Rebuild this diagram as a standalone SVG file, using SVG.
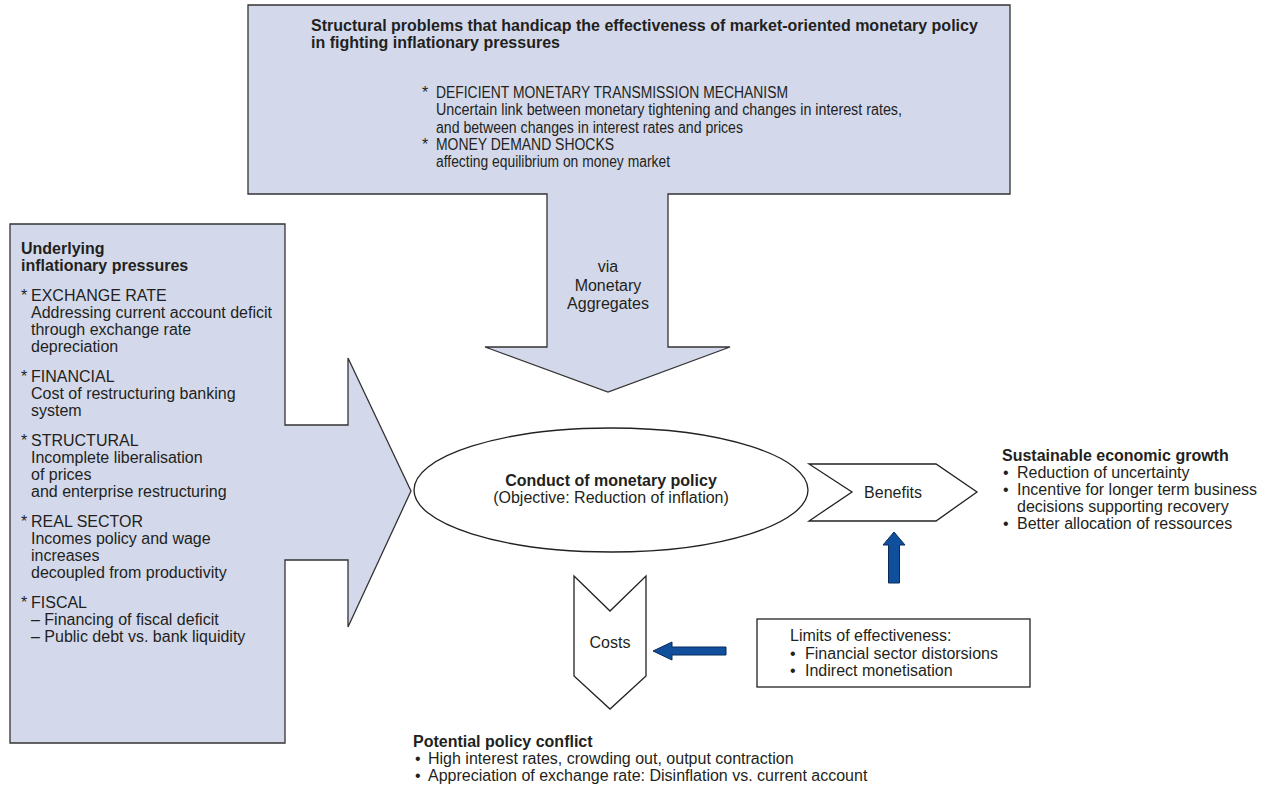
<svg xmlns="http://www.w3.org/2000/svg" width="1265" height="791" viewBox="0 0 1265 791">
<style>
text{font-family:"Liberation Sans",Arial,sans-serif;font-size:16px;fill:#231f20}
.b{font-weight:bold}
.m{text-anchor:middle}
.panel{fill:#d3d9eb;stroke:#333;stroke-width:1.3;stroke-linejoin:miter}
.wshape{fill:#fff;stroke:#222;stroke-width:1.3}
.blue{fill:#0f4f9c;stroke:#0a2a5c;stroke-width:1}
</style>
<rect width="1265" height="791" fill="#fff"/>

<g id="structural-problems">
<polygon class="panel" points="248,5 1010,5 1010,194 668,194 668,347 730,347 608,392 485,347 547,347 547,194 248,194"/>
<text class="b" x="311" y="30.5">Structural problems that handicap the effectiveness of market-oriented monetary policy</text>
<text class="b" x="311" y="48">in fighting inflationary pressures</text>
<text x="422" y="97.5">*</text>
<text x="436" y="97.5" textLength="352" lengthAdjust="spacingAndGlyphs">DEFICIENT MONETARY TRANSMISSION MECHANISM</text>
<text x="436" y="115" textLength="466" lengthAdjust="spacingAndGlyphs">Uncertain link between monetary tightening and changes in interest rates,</text>
<text x="436" y="132.5" textLength="307" lengthAdjust="spacingAndGlyphs">and between changes in interest rates and prices</text>
<text x="422" y="149.5">*</text>
<text x="436" y="149.5" textLength="178" lengthAdjust="spacingAndGlyphs">MONEY DEMAND SHOCKS</text>
<text x="436" y="166.5" textLength="234" lengthAdjust="spacingAndGlyphs">affecting equilibrium on money market</text>
<text class="m" x="608" y="272">via</text>
<text class="m" x="608" y="290.5">Monetary</text>
<text class="m" x="608" y="309">Aggregates</text>
</g>

<g id="inflationary-pressures">
<polygon class="panel" points="10,224 285,224 285,425 348,425 348,358 411,491 348,627 348,560 285,560 285,743 10,743"/>
<text class="b" x="21" y="253.5">Underlying</text>
<text class="b" x="21" y="270.5">inflationary pressures</text>
<text x="21" y="300.5">*</text><text x="31" y="300.5">EXCHANGE RATE</text>
<text x="31" y="317.5">Addressing current account deficit</text>
<text x="31" y="334.5">through exchange rate</text>
<text x="31" y="351.5">depreciation</text>
<text x="21" y="381.5">*</text><text x="31" y="381.5">FINANCIAL</text>
<text x="31" y="398.5">Cost of restructuring banking</text>
<text x="31" y="415.5">system</text>
<text x="21" y="445.5">*</text><text x="31" y="445.5">STRUCTURAL</text>
<text x="31" y="462.5">Incomplete liberalisation</text>
<text x="31" y="479.5">of prices</text>
<text x="31" y="496.5">and enterprise restructuring</text>
<text x="21" y="526.5">*</text><text x="31" y="526.5">REAL SECTOR</text>
<text x="31" y="543.5">Incomes policy and wage</text>
<text x="31" y="560.5">increases</text>
<text x="31" y="577.5">decoupled from productivity</text>
<text x="21" y="607.5">*</text><text x="31" y="607.5">FISCAL</text>
<text x="31" y="624.5">– Financing of fiscal deficit</text>
<text x="31" y="641.5">– Public debt vs. bank liquidity</text>
</g>

<g id="monetary-policy">
<ellipse class="wshape" cx="611" cy="490" rx="197" ry="62"/>
<text class="b m" x="611" y="486">Conduct of monetary policy</text>
<text class="m" x="611" y="502.5">(Objective: Reduction of inflation)</text>
</g>

<g id="benefits">
<polygon class="wshape" points="809,464 936,464 977,492 936,521 809,521 852,492"/>
<text class="m" x="893" y="497.5">Benefits</text>
</g>

<g id="sustainable-growth">
<text class="b" x="1002" y="461">Sustainable economic growth</text>
<text x="1003" y="478">•</text><text x="1017" y="478">Reduction of uncertainty</text>
<text x="1003" y="495">•</text><text x="1017" y="495">Incentive for longer term business</text>
<text x="1017" y="512">decisions supporting recovery</text>
<text x="1003" y="529">•</text><text x="1017" y="529">Better allocation of ressources</text>
</g>

<g id="costs">
<polygon class="wshape" points="574,576 610,611 646,576 646,676 610,709 574,676"/>
<text class="m" x="610" y="647.5">Costs</text>
</g>

<g id="limits">
<rect class="wshape" x="757" y="619" width="273" height="68"/>
<text x="790" y="640.5">Limits of effectiveness:</text>
<text x="790" y="658.5">•</text><text x="805" y="658.5">Financial sector distorsions</text>
<text x="790" y="675.5">•</text><text x="805" y="675.5">Indirect monetisation</text>
</g>

<g id="policy-conflict">
<text class="b" x="413" y="746.5">Potential policy conflict</text>
<text x="415" y="763.5">•</text><text x="428" y="763.5">High interest rates, crowding out, output contraction</text>
<text x="415" y="780.5">•</text><text x="428" y="780.5">Appreciation of exchange rate: Disinflation vs. current account</text>
</g>

<g id="connectors">
<polygon class="blue" points="894,532 905,545 899.5,545 899.5,583 888.5,583 888.5,545 883,545"/>
<polygon class="blue" points="653,651 672,642 672,647 726,647 726,655 672,655 672,660"/>
</g>
</svg>
